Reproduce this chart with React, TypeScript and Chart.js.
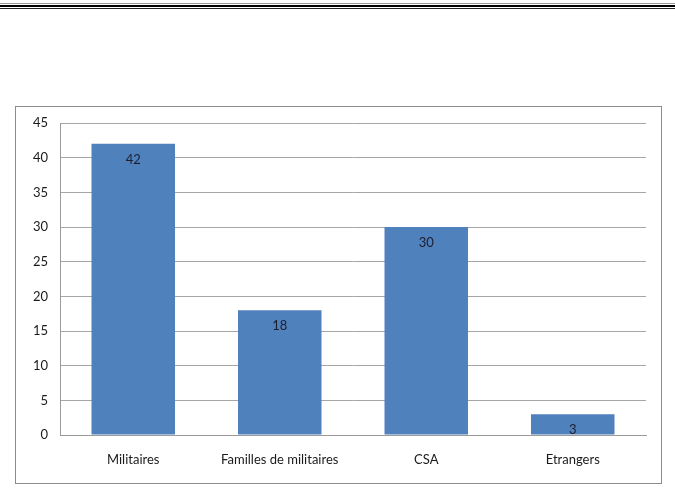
import React, { useEffect, useRef } from "react";
import { Chart, registerables } from "chart.js";

Chart.register(...registerables);

const categories = ["Militaires", "Familles de militaires", "CSA", "Etrangers"];
const values = [42, 18, 30, 3];
const yTicks = [0, 5, 10, 15, 20, 25, 30, 35, 40, 45];

const FONT = "Lato, 'Open Sans', sans-serif";

const labelPlugin = {
  id: "barLabels",
  afterDatasetsDraw(chart: any) {
    const ctx = chart.ctx;
    const meta = chart.getDatasetMeta(0);
    ctx.save();
    ctx.font = `13px ${FONT}`;
    ctx.fillStyle = "#1e1e2e";
    ctx.textAlign = "center";
    ctx.textBaseline = "middle";
    meta.data.forEach((bar: any, i: number) => {
      ctx.fillText(String(values[i]), bar.x, bar.y + 16);
    });
    ctx.restore();
  },
};

export default function App() {
  const ref = useRef<HTMLCanvasElement | null>(null);
  useEffect(() => {
    if (!ref.current) return;
    const chart = new Chart(ref.current, {
      type: "bar",
      data: {
        labels: categories,
        datasets: [
          {
            data: values,
            backgroundColor: "#4f81bd",
            borderWidth: 0,
            categoryPercentage: 1,
            barPercentage: 0.57,
          },
        ],
      },
      options: {
        responsive: false,
        animation: false,
        layout: { padding: { top: 16, right: 15, left: 0, bottom: 0 } },
        plugins: { legend: { display: false }, tooltip: { enabled: false } },
        scales: {
          x: {
            grid: { display: false, drawTicks: false },
            border: { display: true, color: "#9a9a9a", width: 1 },
            ticks: { color: "#1a1a1a", font: { family: FONT, size: 13 }, padding: 17, maxRotation: 0 },
            afterFit: (s: any) => {
              s.height = 48;
              s.paddingLeft = 0;
              s.paddingRight = 0;
            },
          },
          y: {
            min: 0,
            max: 45,
            afterBuildTicks: (s: any) => {
              s.ticks = yTicks.map((v) => ({ value: v }));
            },
            grid: { color: "#a6a6a6", drawTicks: false, lineWidth: 1 },
            border: { display: true, color: "#9a9a9a", width: 1 },
            ticks: { color: "#1a1a1a", font: { family: FONT, size: 13 }, padding: 12 },
            afterFit: (s: any) => {
              s.width = 44;
              s.paddingTop = 0;
              s.paddingBottom = 0;
            },
          },
        },
      },
      plugins: [labelPlugin],
    });
    return () => chart.destroy();
  }, []);

  return (
    <div style={{ position: "absolute", left: 0, top: 0, width: 675, height: 491, background: "#fff" }}>
      <div style={{ position: "absolute", left: 0, top: 3, width: 675, height: 1, background: "#999" }} />
      <div style={{ position: "absolute", left: 0, top: 5, width: 675, height: 2, background: "#000" }} />
      <div style={{ position: "absolute", left: 0, top: 8, width: 675, height: 1, background: "#222" }} />
      <div
        style={{
          position: "absolute",
          left: 15,
          top: 106,
          width: 645,
          height: 376,
          border: "1px solid #8c8c8c",
          background: "#fff",
        }}
      >
        <canvas ref={ref} width={645} height={376} style={{ display: "block" }} />
      </div>
    </div>
  );
}
